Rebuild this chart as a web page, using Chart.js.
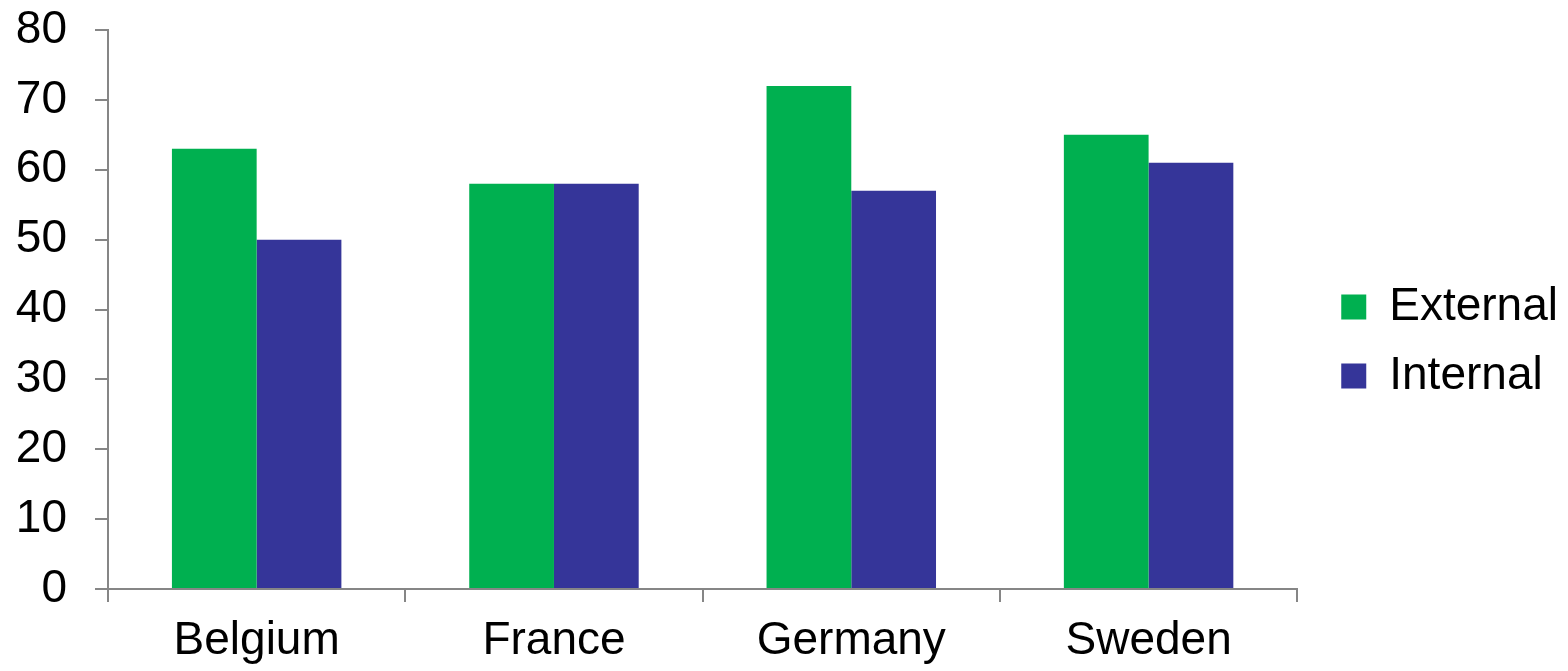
<!DOCTYPE html>
<html>
<head>
<meta charset="utf-8">
<script src="https://cdn.jsdelivr.net/npm/chart.js@4/dist/chart.umd.min.js"></script>
<style>
  html, body { margin: 0; padding: 0; background: #fff; }
  #wrap { width: 1568px; height: 671px; position: relative; }
</style>
</head>
<body>
<div id="wrap"><canvas id="chart"></canvas></div>
<script>
const categories = ['Belgium', 'France', 'Germany', 'Sweden'];
const externalValues = [63, 58, 72, 65];
const internalValues = [50, 58, 57, 61];
const yTicks = [0, 10, 20, 30, 40, 50, 60, 70, 80];

const axisGray = '#868686';
const font = 'Liberation Sans, Arial, sans-serif';

new Chart(document.getElementById('chart'), {
  type: 'bar',
  data: {
    labels: categories,
    datasets: [
      { label: 'External', data: externalValues, backgroundColor: '#00B050', categoryPercentage: 0.57, barPercentage: 1 },
      { label: 'Internal', data: internalValues, backgroundColor: '#353599', categoryPercentage: 0.57, barPercentage: 1 }
    ]
  },
  options: {
    responsive: true,
    maintainAspectRatio: false,
    animation: false,
    layout: { padding: { top: 12, right: 0, left: 0, bottom: 0 } },
    plugins: {
      legend: {
        position: 'right',
        labels: { color: '#000', font: { family: font, size: 46 }, boxWidth: 25, boxHeight: 25, padding: 23 }
      },
      tooltip: { enabled: false }
    },
    scales: {
      x: {
        afterFit(axis) { axis.height = 82; },
        grid: { display: true, drawOnChartArea: false, color: axisGray, tickLength: 13, tickColor: axisGray, lineWidth: 2 },
        border: { color: axisGray, width: 2 },
        ticks: { color: '#000', font: { family: font, size: 46 }, padding: 12 }
      },
      y: {
        min: 0,
        max: 80,
        afterBuildTicks(axis) { axis.ticks = yTicks.map(v => ({ value: v })); },
        afterFit(axis) { axis.width = 108; axis.paddingTop = 30; axis.paddingBottom = 0; },
        grid: { display: true, drawOnChartArea: false, color: axisGray, tickLength: 13, tickColor: axisGray, lineWidth: 2 },
        border: { color: axisGray, width: 2 },
        ticks: { color: '#000', font: { family: font, size: 46 }, padding: 28 }
      },
      // empty spacer between the plot and the legend
      gap: {
        type: 'linear',
        position: 'right',
        grid: { display: false },
        border: { display: false },
        ticks: { display: false },
        afterFit(axis) { axis.width = 21; axis.paddingTop = 0; axis.paddingBottom = 0; }
      }
    }
  }
});
</script>
</body>
</html>
